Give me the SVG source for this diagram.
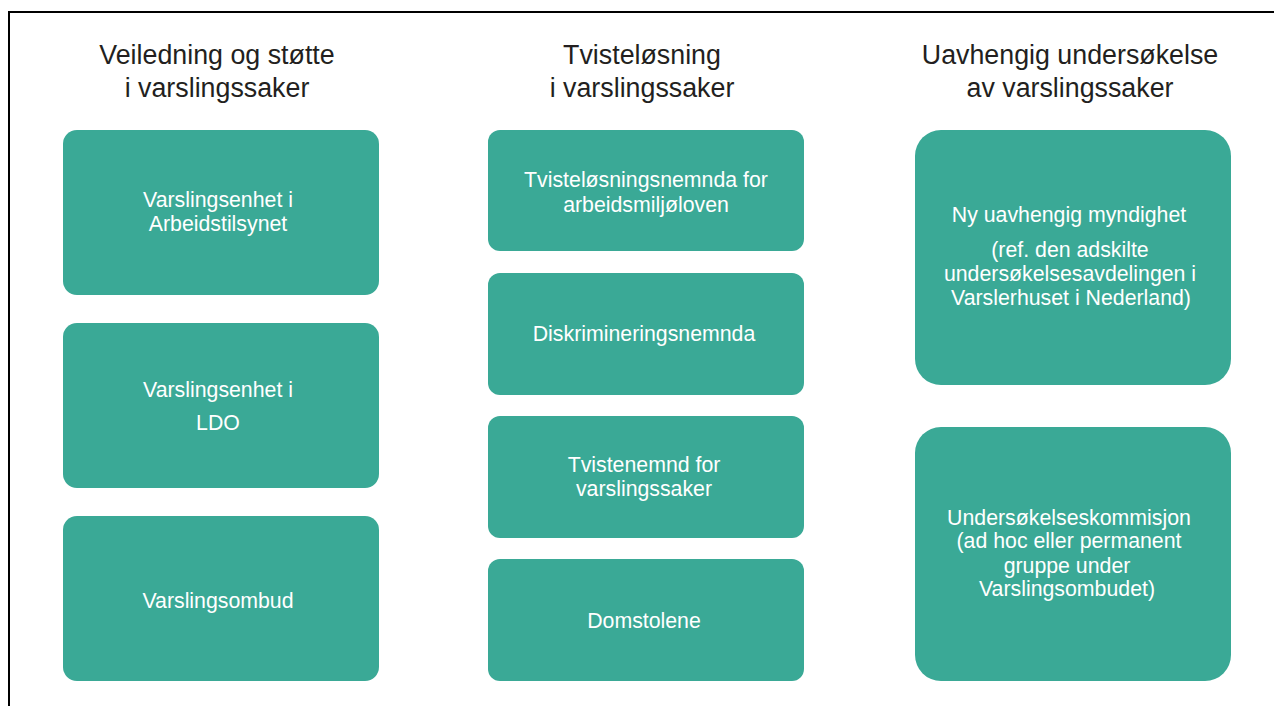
<svg xmlns="http://www.w3.org/2000/svg" width="1274" height="706" viewBox="0 0 1274 706">
<style>
.t{font-family:"Liberation Sans",Arial,sans-serif;font-size:26.8px;fill:#231f20;text-anchor:middle}
.b{fill:#3aa996}
.l{font-family:"Liberation Sans",Arial,sans-serif;font-size:21.3px;fill:#ffffff;text-anchor:middle}
</style>
<rect x="0" y="0" width="1274" height="706" fill="#ffffff"/>
<rect x="9" y="12" width="1400" height="900" fill="none" stroke="#000000" stroke-width="2"/>
<g id="title1"><text class="t" x="217" y="64">Veiledning og støtte</text><text class="t" x="217" y="97">i varslingssaker</text></g>
<g id="title2"><text class="t" x="642" y="64">Tvisteløsning</text><text class="t" x="642" y="97">i varslingssaker</text></g>
<g id="title3"><text class="t" x="1070" y="64">Uavhengig undersøkelse</text><text class="t" x="1070" y="97">av varslingssaker</text></g>
<g id="n1"><rect class="b" x="63" y="130" width="316" height="165" rx="14"/><text class="l" x="218" y="207">Varslingsenhet i</text><text class="l" x="218" y="231">Arbeidstilsynet</text></g>
<g id="n2"><rect class="b" x="63" y="323" width="316" height="165" rx="14"/><text class="l" x="218" y="397">Varslingsenhet i</text><text class="l" x="218" y="430">LDO</text></g>
<g id="n3"><rect class="b" x="63" y="516" width="316" height="165" rx="14"/><text class="l" x="218" y="608">Varslingsombud</text></g>
<g id="n4"><rect class="b" x="488" y="130" width="316" height="121" rx="12"/><text class="l" x="646" y="187">Tvisteløsningsnemnda for</text><text class="l" x="646" y="212">arbeidsmiljøloven</text></g>
<g id="n5"><rect class="b" x="488" y="273" width="316" height="122" rx="12"/><text class="l" x="644" y="341">Diskrimineringsnemnda</text></g>
<g id="n6"><rect class="b" x="488" y="416" width="316" height="122" rx="12"/><text class="l" x="644" y="472">Tvistenemnd for</text><text class="l" x="644" y="496">varslingssaker</text></g>
<g id="n7"><rect class="b" x="488" y="559" width="316" height="122" rx="12"/><text class="l" x="644" y="628">Domstolene</text></g>
<g id="n8"><rect class="b" x="915" y="130" width="316" height="255" rx="26"/><text class="l" x="1069" y="222">Ny uavhengig myndighet</text><text class="l" x="1070" y="257">(ref. den adskilte</text><text class="l" x="1070" y="281">undersøkelsesavdelingen i</text><text class="l" x="1071" y="305">Varslerhuset i Nederland)</text></g>
<g id="n9"><rect class="b" x="915" y="427" width="316" height="254" rx="26"/><text class="l" x="1069" y="525">Undersøkelseskommisjon</text><text class="l" x="1069" y="548">(ad hoc eller permanent</text><text class="l" x="1067" y="573">gruppe under</text><text class="l" x="1067" y="596">Varslingsombudet)</text></g>
<g id="connectors"></g>
</svg>
